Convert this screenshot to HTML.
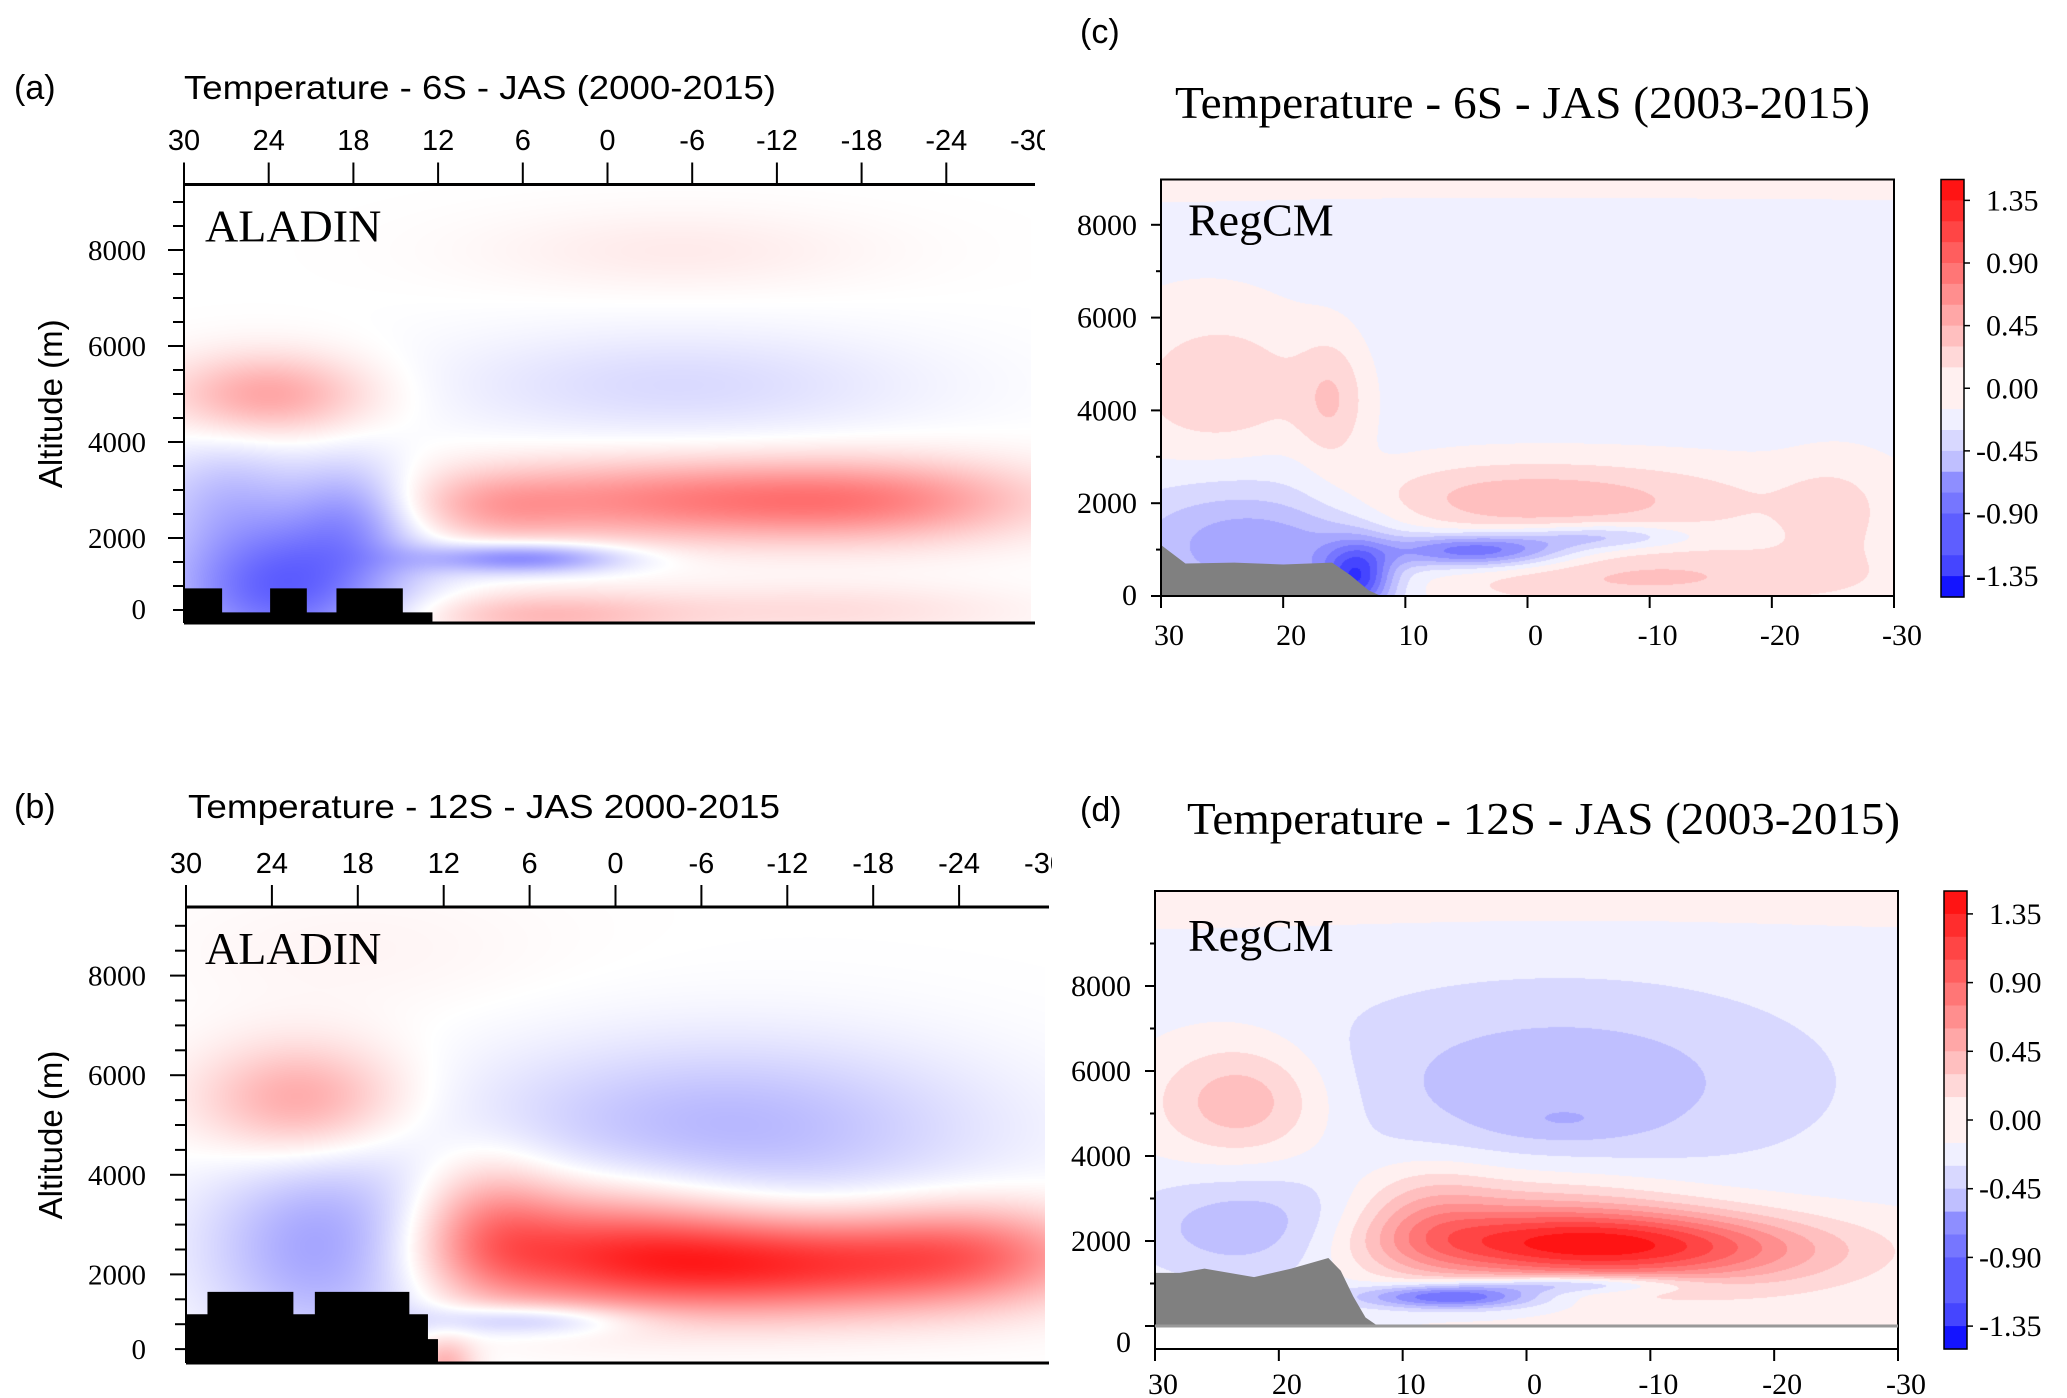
<!DOCTYPE html>
<html><head><meta charset="utf-8">
<style>
html,body{margin:0;padding:0;background:#fff;}
#wrap{position:relative;width:2067px;height:1398px;overflow:hidden;background:#fff;}
canvas{position:absolute;}
svg{position:absolute;left:0;top:0;}
</style></head>
<body>
<div id="wrap">
<canvas id="cvA"></canvas>
<canvas id="cvB"></canvas>
<canvas id="cvC"></canvas>
<canvas id="cvD"></canvas>
<svg id="ov" width="2067" height="1398"></svg>
</div>
<script>
// ---- data: anomaly blobs (lon deg, alt km, amplitude K, lon width, alt width) ----
const aLon=[24,23,18,-5,-20,6,5,-15,-5,-5,27,8];
const aAlt=[5.0,1.0,2.6,2.8,2.8,1.6,0.4,0.5,5.2,8.0,3.0,2.6];
const aAmp=[0.55,-0.95,-0.45,0.7,0.45,-0.75,0.4,0.2,-0.22,0.12,-0.3,0.25];
const aSx=[5,6,3,12,8,5,7,10,12,10,4,4];
const aSy=[0.6,1.1,0.8,0.6,0.6,0.22,0.35,0.4,0.8,0.6,0.8,0.5];

const bLon=[22,20,-10,2,-25,6,12,-8,18,-5,9];
const bAlt=[5.5,2.5,2.2,2.8,2.5,1.1,0.2,5.0,8.5,4.3,3.0];
const bAmp=[0.55,-0.6,1.2,0.6,0.5,-0.45,0.5,-0.35,0.06,-0.1,0.45];
const bSx=[5,6,12,8,6,5,1.5,12,10,15,3.5];
const bSy=[0.8,1.3,0.7,0.9,0.7,0.22,0.4,1.2,1.0,1.5,1.0];

const cLon=[0,0,25,22,14,0,4,-6,-12,-25,16,-5];
const cAlt=[6,9.8,4.5,1.2,0.4,2.1,1.0,1.3,0.5,1.8,4.2,0.3];
const cAmp=[-0.1,0.12,0.32,-0.6,-1.0,0.45,-0.9,-0.45,0.22,0.2,0.3,0.12];
const cSx=[28,30,6,8,2,13,5,5,12,3,2,14];
const cSy=[2.5,1.0,1.3,1.1,0.5,0.6,0.25,0.2,0.5,0.8,1.0,0.4];

const dLon=[23,-3,-3,-7,0,22,6,-4,0,0,-18,8];
const dAlt=[5.3,5.7,4.8,1.9,2.4,2.3,0.7,1.0,6,10.6,1.2,2.6];
const dAmp=[0.5,-0.32,-0.12,1.15,0.5,-0.42,-1.0,-0.6,-0.08,0.1,0.15,0.3];
const dSx=[5,14,4,11,10,7,5,6,30,30,8,4];
const dSy=[1.0,1.6,0.3,0.55,0.9,0.9,0.2,0.15,3,1,0.6,0.9];

const terrainALonA=[30,27.3,27.3,23.9,23.9,21.3,21.3,19.2,19.2,14.5,14.5,12.4];
const terrainAltA=[0.95,0.95,0.45,0.45,0.95,0.95,0.45,0.45,0.95,0.95,0.45,0.45];
const terrainLonB=[30,28.5,28.5,22.5,22.5,21,21,14.4,14.4,13.1,13.1,12.4];
const terrainAltB=[1.2,1.2,1.65,1.65,1.2,1.2,1.65,1.65,1.2,1.2,0.7,0.7];
const terrainLonC=[30,28,24,20,16,14.5,13,12];
const terrainAltC=[1.1,0.7,0.72,0.68,0.72,0.45,0.12,0];
const terrainLonD=[30,28,26,22,19,16,15,14,13,12];
const terrainAltD=[1.25,1.25,1.35,1.15,1.35,1.6,1.3,0.7,0.2,0];

const topTicksAl=[30,24,18,12,6,0,-6,-12,-18,-24,-30];
const botTicksRc=[30,20,10,0,-10,-20,-30];
const altTicks=[0,2000,4000,6000,8000];
const cbLabels=["1.35","0.90","0.45","0.00","-0.45","-0.90","-1.35"];

// ---- panel layout ----
const P={
 a:{L:184,R:1031,T:184.5,B:623,y0:634,pk:48,field:[aLon,aAlt,aAmp,aSx,aSy],disc:false,cv:'cvA'},
 b:{L:186,R:1045,T:907,B:1363,y0:1374,pk:49.8,field:[bLon,bAlt,bAmp,bSx,bSy],disc:false,cv:'cvB'},
 c:{L:1161,R:1894,T:179.5,B:596,y0:596,pk:46.4,field:[cLon,cAlt,cAmp,cSx,cSy],disc:true,cv:'cvC'},
 d:{L:1155,R:1898,T:891,B:1326,y0:1326,pk:42.5,field:[dLon,dAlt,dAmp,dSx,dSy],disc:true,cv:'cvD'}
};
function xOf(p,lon){return p.L+(30-lon)/60*(p.R-p.L);}
function yOf(p,alt){return p.y0-alt*p.pk;}
function val(f,lon,alt){let v=0;for(let i=0;i<f[0].length;i++){const dx=(lon-f[0][i])/f[3][i],dy=(alt-f[1][i])/f[4][i];v+=f[2][i]*Math.exp(-0.5*(dx*dx+dy*dy));}return v;}
function colCont(v){const t=Math.min(Math.abs(v)/1.4,1);const g=Math.round(255-235*t);return v>=0?[255,g,g]:[g,g,255];}
function colDisc(v){let k=Math.min(10,Math.floor(Math.abs(v)/0.15)+1);const g=Math.round(240-(k-1)*24.4);return v>=0?[255,g,g]:[g,g,255];}

for(const key in P){const p=P[key];const c=document.getElementById(p.cv);
 const w=Math.round(p.R-p.L),h=Math.round(p.B-p.T);c.width=w;c.height=h;c.style.left=p.L+'px';c.style.top=p.T+'px';
 const ctx=c.getContext('2d');const im=ctx.createImageData(w,h);
 for(let j=0;j<h;j++){const alt=(p.y0-(p.T+j))/p.pk;for(let i=0;i<w;i++){const lon=30-(i/w)*60;const v=val(p.field,lon,alt);const col=p.disc?colDisc(v):colCont(v);const o=(j*w+i)*4;im.data[o]=col[0];im.data[o+1]=col[1];im.data[o+2]=col[2];im.data[o+3]=255;}}
 ctx.putImageData(im,0,0);}

const NS='http://www.w3.org/2000/svg';const sv=document.getElementById('ov');
function el(tag,attrs,txt){const e=document.createElementNS(NS,tag);for(const k in attrs)e.setAttribute(k,attrs[k]);if(txt!==undefined)e.textContent=txt;sv.appendChild(e);return e;}

const defs=el('defs',{});
[['clipA',1045],['clipB',1052]].forEach(([id,x])=>{const cp=document.createElementNS(NS,'clipPath');cp.setAttribute('id',id);const r=document.createElementNS(NS,'rect');r.setAttribute('x',0);r.setAttribute('y',0);r.setAttribute('width',x);r.setAttribute('height',1398);cp.appendChild(r);defs.appendChild(cp);});

function terrain(p,lons,alts,fill,name){let pts=[];for(let i=0;i<lons.length;i++)pts.push(xOf(p,lons[i])+','+yOf(p,alts[i]));
 const last=lons[lons.length-1];pts.push(xOf(p,last)+','+p.B);pts.push(p.L+','+p.B);
 const e=el('polygon',{points:pts.join(' '),fill:fill});
 
 }

function aladin(p,key,title,tx,ty,labY){
 const lab=el('text',{x:14,y:ty+12,'font-family':'Liberation Sans, sans-serif','font-size':34},'('+key+')');
 
 
 const t=el('text',{x:tx,y:ty+12,'font-family':'Liberation Sans, sans-serif','font-size':33,textLength:592,lengthAdjust:'spacingAndGlyphs'},title);
 
 
 terrain(p,key==='a'?terrainALonA:terrainLonB,key==='a'?terrainAltA:terrainAltB,'#000','panel-'+key+'-terrain');
 el('line',{x1:p.L,y1:p.T,x2:p.R+4,y2:p.T,stroke:'#000','stroke-width':3});
 el('line',{x1:p.L,y1:p.T,x2:p.L,y2:p.B,stroke:'#000','stroke-width':2});
 el('line',{x1:p.L,y1:p.B,x2:p.R+4,y2:p.B,stroke:'#000','stroke-width':3});
 topTicksAl.forEach(v=>{const x=xOf(p,v);if(v>-30)el('line',{x1:x,y1:p.T-22,x2:x,y2:p.T,stroke:'#000','stroke-width':2});
  const tt=el('text',{x:x,y:labY,'text-anchor':'middle','font-family':'Liberation Sans, sans-serif','font-size':29,'clip-path':'url(#'+(key==='a'?'clipA':'clipB')+')'},String(v));
  
  });
 for(let a=-500;a<=9500;a+=500){const y=yOf(p,a/1000);if(y<p.T||y>p.B)continue;const major=a%2000===0&&a>0;el('line',{x1:p.L-(major?16:11),y1:y,x2:p.L,y2:y,stroke:'#000','stroke-width':2});}
 altTicks.forEach(a=>{const y=a===0?p.B-4:yOf(p,a/1000)+10;const tt=el('text',{x:146,y:y,'text-anchor':'end','font-family':'Liberation Serif, serif','font-size':29},String(a));
  
  });
 const yc=(p.T+p.B)/2;const yl=el('text',{x:62,y:yc,'text-anchor':'middle','font-family':'Liberation Sans, sans-serif','font-size':33,transform:'rotate(-90 62 '+yc+')'},'Altitude (m)');
 
 
 const m=el('text',{x:205,y:p.T+57,'font-family':'Liberation Serif, serif','font-size':46},'ALADIN');
 
 
}
function regcm(p,key,title,labTy,titleTy,labY,cb){
 const lab=el('text',{x:1080,y:labTy,'font-family':'Liberation Sans, sans-serif','font-size':34},'('+key+')');
 
 
 const t=el('text',{x:key==='c'?1175:1187,y:titleTy,'font-family':'Liberation Serif, serif','font-size':46,textLength:key==='c'?695:713,lengthAdjust:'spacingAndGlyphs'},title);
 
 
 terrain(p,key==='c'?terrainLonC:terrainLonD,key==='c'?terrainAltC:terrainAltD,'#808080','panel-'+key+'-terrain');
 const boxB=key==='d'?1349:p.B;
 el('rect',{x:p.L,y:p.T,width:p.R-p.L,height:boxB-p.T,fill:'none',stroke:'#000','stroke-width':2});
 if(key==='d')el('line',{x1:p.L,y1:p.B,x2:p.R,y2:p.B,stroke:'#999','stroke-width':3});
 botTicksRc.forEach(v=>{const x=xOf(p,v);el('line',{x1:x,y1:boxB,x2:x,y2:boxB+12,stroke:'#000','stroke-width':2});
  const tt=el('text',{x:x+8,y:labY,'text-anchor':'middle','font-family':'Liberation Serif, serif','font-size':30},String(v));
  
  });
 for(let a=0;a<=9000;a+=1000){const y=yOf(p,a/1000);if(y<p.T)continue;el('line',{x1:p.L-(a%2000===0?10:5),y1:y,x2:p.L,y2:y,stroke:'#000','stroke-width':2});}
 altTicks.forEach(a=>{const y=a===0?(key==='d'?1352:p.B+9):yOf(p,a/1000)+10;const tt=el('text',{x:p.L-24,y:y,'text-anchor':'end','font-family':'Liberation Serif, serif','font-size':30},String(a));
  
  });
 const m=el('text',{x:1188,y:p.T+(key==='c'?56:60),'font-family':'Liberation Serif, serif','font-size':46},'RegCM');
 
 
 const bh=(cb.B-cb.T)/20;
 for(let i=0;i<20;i++){const v=1.425-0.15*i;const col=colDisc(v>0?v-0.075:v+0.075);
  const r=el('rect',{x:cb.L,y:cb.T+i*bh,width:cb.W,height:bh+0.6,fill:'rgb('+col.join(',')+')'});
  
  }
 el('rect',{x:cb.L,y:cb.T,width:cb.W,height:cb.B-cb.T,fill:'none',stroke:'#000','stroke-width':1.5});
 cbLabels.forEach((s,k)=>{const y=cb.T+(1+3*k)*bh;el('line',{x1:cb.L+cb.W,y1:y,x2:cb.L+cb.W+6,y2:y,stroke:'#000','stroke-width':1.5});
  const tt=el('text',{x:cb.L+cb.W+(s[0]==='-'?12:22),y:y+10,'font-family':'Liberation Serif, serif','font-size':30},s);
  
  });
}
aladin(P.a,'a','Temperature - 6S - JAS (2000-2015)',184,87,150);
aladin(P.b,'b','Temperature - 12S - JAS 2000-2015',188,806,873);
regcm(P.c,'c','Temperature - 6S - JAS (2003-2015)',43,118,645,{L:1941,W:23,T:179.5,B:597});
regcm(P.d,'d','Temperature - 12S - JAS (2003-2015)',821,834,1394,{L:1944,W:23,T:891,B:1349});
</script>
</body></html>
